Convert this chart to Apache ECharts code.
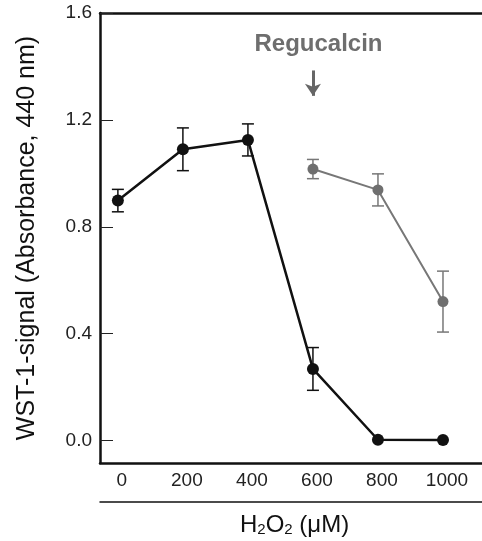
<!DOCTYPE html>
<html>
<head>
<meta charset="utf-8">
<script src="https://cdn.jsdelivr.net/npm/echarts@6/dist/echarts.min.js"></script>
<style>html,body{margin:0;padding:0;background:#fff}#c{width:482px;height:541px}</style>
</head>
<body>
<div id="c"></div>
<script>
const doses = [0, 200, 400, 600, 800, 1000];
const controlMean = [0.898, 1.09, 1.125, 0.268, 0.003, 0.002];
const controlErr = [0.042, 0.08, 0.06, 0.08, 0, 0];
const rgcDoses = [600, 800, 1000];
const rgcMean = [1.016, 0.938, 0.52];
const rgcErr = [0.036, 0.06, 0.114];
const yTicks = [0, 0.4, 0.8, 1.2, 1.6];
const xTicks = [0, 200, 400, 600, 800, 1000];

const chart = echarts.init(document.getElementById('c'), null, {renderer: 'canvas'});

function errData(xs, m, e) {
  return xs.map((x, i) => [x, m[i] - e[i], m[i] + e[i]]);
}
function errRender(color) {
  return function (params, api) {
    const x = api.value(0);
    const lo = api.coord([x, api.value(1)]);
    const hi = api.coord([x, api.value(2)]);
    if (Math.abs(lo[1] - hi[1]) < 1) return null;
    const w = 6;
    const st = {stroke: color, lineWidth: 1.5};
    return {
      type: 'group',
      children: [
        {type: 'line', shape: {x1: lo[0], y1: lo[1], x2: hi[0], y2: hi[1]}, style: st},
        {type: 'line', shape: {x1: lo[0] - w, y1: lo[1], x2: lo[0] + w, y2: lo[1]}, style: st},
        {type: 'line', shape: {x1: hi[0] - w, y1: hi[1], x2: hi[0] + w, y2: hi[1]}, style: st}
      ]
    };
  };
}

const XMIN = -55, XMAX = 1120;
const option = {
  animation: false,
  grid: {left: 100, top: 13, right: 0, height: 450},
  xAxis: [{
    type: 'value', min: XMIN, max: XMAX,
    axisLine: {show: true, onZero: false, lineStyle: {color: '#111', width: 2.5}},
    axisTick: {show: false},
    splitLine: {show: false},
    axisLabel: {
      customValues: xTicks, margin: 8, fontSize: 19, color: '#222',
      fontFamily: 'Liberation Sans', padding: [0, 0, 0, 8], formatter: v => String(v)
    }
  }, {
    type: 'value', min: XMIN, max: XMAX, position: 'bottom', offset: 39,
    axisLine: {show: true, onZero: false, lineStyle: {color: '#111', width: 1.5}},
    axisTick: {show: false}, axisLabel: {show: false}, splitLine: {show: false}
  }, {
    type: 'value', min: XMIN, max: XMAX, position: 'top',
    axisLine: {show: true, onZero: false, lineStyle: {color: '#111', width: 2.5}},
    axisTick: {show: false}, axisLabel: {show: false}, splitLine: {show: false}
  }],
  yAxis: {
    type: 'value', min: -0.084, max: 1.6,
    axisLine: {show: true, onZero: false, lineStyle: {color: '#111', width: 2.5}},
    axisTick: {show: true, inside: true, length: 13, customValues: yTicks, lineStyle: {color: '#222', width: 1}},
    splitLine: {show: false},
    axisLabel: {
      customValues: yTicks, margin: 8, fontSize: 19, color: '#222',
      fontFamily: 'Liberation Sans', formatter: v => v.toFixed(1)
    },
    name: 'WST-1-signal (Absorbance, 440 nm)',
    nameLocation: 'middle', nameRotate: 90, nameGap: 60,
    nameTextStyle: {fontSize: 25, color: '#111', fontFamily: 'Liberation Sans'}
  },
  graphic: [{
    type: 'text', left: 240, top: 508,
    style: {
      text: 'H{s|2}O{s|2} (μM)',
      font: '24px "Liberation Sans"', fill: '#111',
      rich: {s: {fontSize: 15, fontFamily: 'Liberation Sans', verticalAlign: 'bottom', lineHeight: 14, padding: [14, 0, 0, 0]}}
    }
  }],
  series: [
    {
      type: 'custom', name: 'ctrlErr', z: 1,
      renderItem: errRender('#111'),
      data: errData(doses, controlMean, controlErr)
    },
    {
      type: 'custom', name: 'rgcErr', z: 1,
      renderItem: errRender('#777'),
      data: errData(rgcDoses, rgcMean, rgcErr)
    },
    {
      type: 'line', name: 'Control', z: 3,
      data: doses.map((d, i) => [d, controlMean[i]]),
      symbol: 'circle', symbolSize: 12,
      lineStyle: {color: '#111', width: 2.5},
      itemStyle: {color: '#111'}
    },
    {
      type: 'line', name: 'Regucalcin', z: 3,
      data: rgcDoses.map((d, i) => [d, rgcMean[i]]),
      symbol: 'circle', symbolSize: 11,
      lineStyle: {color: '#777', width: 2},
      itemStyle: {color: '#6f6f6f'},
      markPoint: {
        symbol: 'rect', symbolSize: 1, itemStyle: {color: 'transparent'},
        label: {show: true, formatter: 'Regucalcin', fontSize: 24, fontWeight: 'bold', color: '#6e6e6e', fontFamily: 'Liberation Sans'},
        data: [{coord: [617, 1.482]}]
      },
      markLine: {
        silent: true, symbol: ['none', 'arrow'], symbolSize: [12, 12],
        label: {show: false},
        lineStyle: {color: '#666', width: 3, type: 'solid'},
        data: [[{coord: [600, 1.385]}, {coord: [600, 1.29]}]]
      }
    }
  ]
};
chart.setOption(option);
</script>
</body>
</html>
